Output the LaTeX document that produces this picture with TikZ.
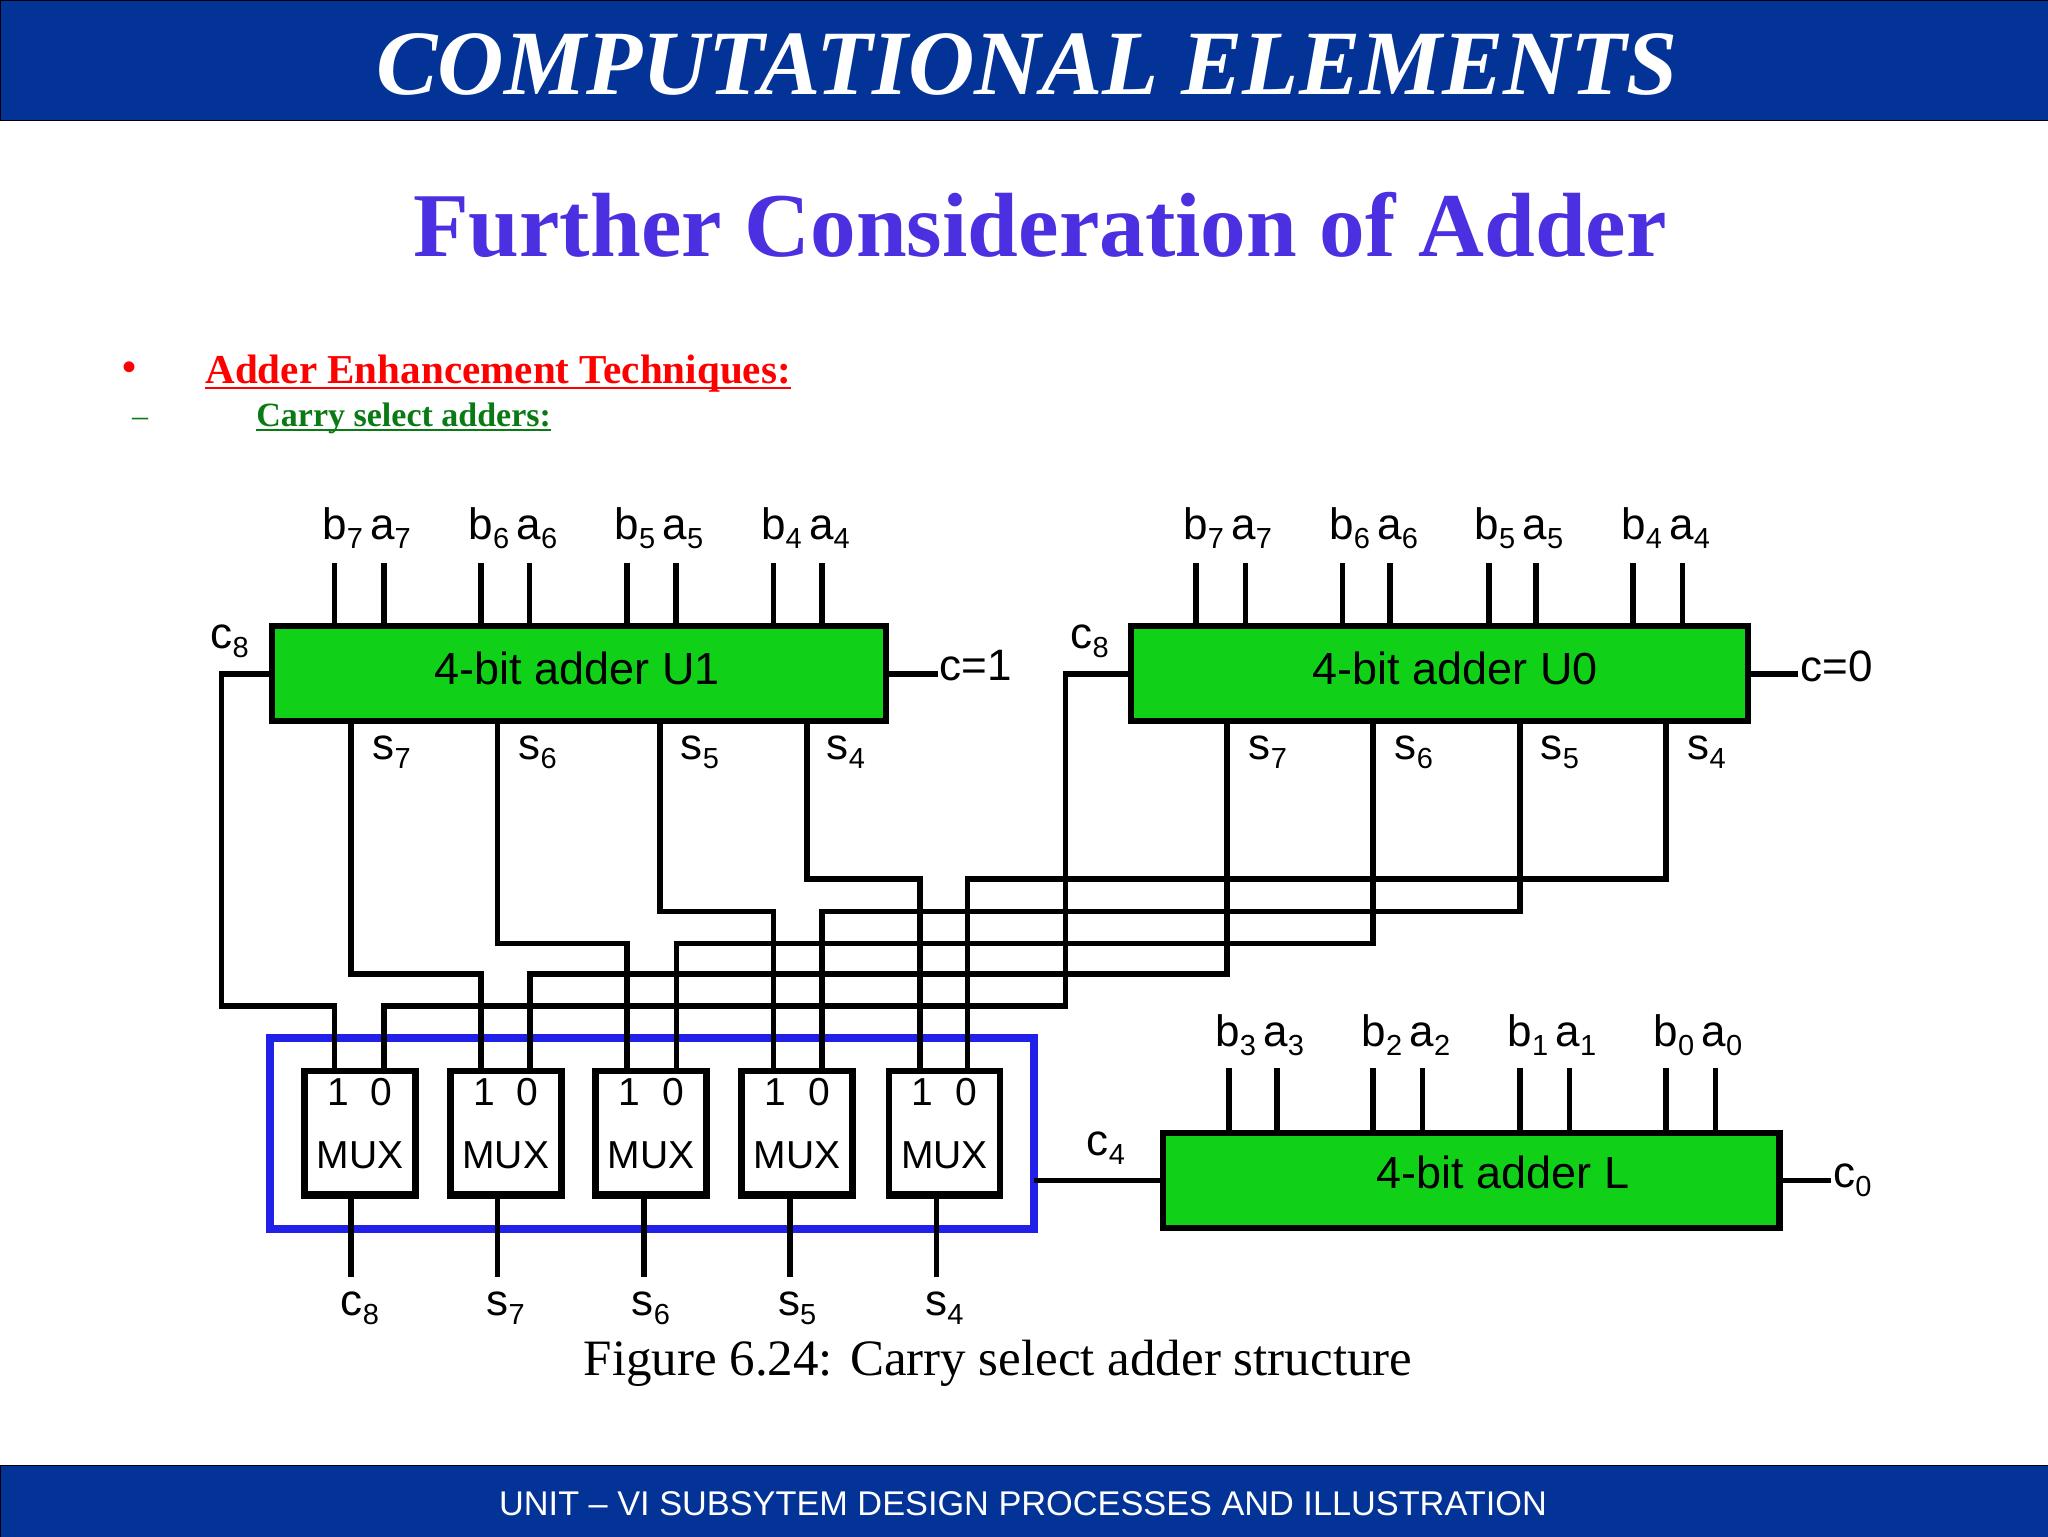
\documentclass[tikz,border=0pt]{standalone}
\usepackage{fontspec}
\setmainfont{Liberation Sans}
\newfontfamily\slidefont{Liberation Serif}
\definecolor{barblue}{HTML}{033396}
\definecolor{headviolet}{HTML}{4A30E0}
\definecolor{addergreen}{HTML}{10D018}
\definecolor{muxblue}{HTML}{2020E8}
\definecolor{subgreen}{HTML}{0A7A14}
\newcommand{\sig}[2]{#1\raisebox{-4.5pt}{\fontsize{14.5}{14.5}\selectfont #2}}
\begin{document}
\begin{tikzpicture}[x=0.5pt, y=-0.5pt,
    adder/.style={draw, line width=3.2pt, fill=addergreen, rectangle, outer sep=0pt, minimum width=307pt, minimum height=47.5pt},
    muxbox/.style={draw, line width=3.4pt, fill=white, rectangle, outer sep=0pt, minimum width=55.5pt, minimum height=62.5pt},
    wire/.style={line width=2.8pt, line join=miter},
    pinlabel/.style={anchor=base, inner sep=0pt, font=\fontsize{22}{22}\selectfont},
    boxlabel/.style={inner sep=0pt, font=\fontsize{22.5}{24}\selectfont},
    every node/.style={align=center}]
  \useasboundingbox (0,0) rectangle (2048,1536);

  % Header and footer bars
  \node[draw=black, fill=barblue, rectangle, minimum width=1024pt, minimum height=60pt, outer sep=0pt] (headbar) at (1024,60) {};
  \node[draw=black, fill=barblue, rectangle, minimum width=1024pt, minimum height=36pt, outer sep=0pt] (footbar) at (1024,1501) {};
  \node[anchor=base, inner sep=0pt, text=white, font=\slidefont\bfseries\itshape\fontsize{46}{48}\selectfont] (headtext) at (1027,95) {COMPUTATIONAL ELEMENTS};
  \node[anchor=base, inner sep=0pt, text=white, font=\fontsize{17.15}{18}\selectfont] (foottext) at (1023,1515) {UNIT – VI SUBSYTEM DESIGN PROCESSES AND ILLUSTRATION};

  % Slide text
  \node[anchor=base, inner sep=0pt, text=headviolet, font=\slidefont\bfseries\fontsize{45.6}{48}\selectfont] (slidetitle) at (1040,256) {Further Consideration of Adder};
  \node[anchor=base, inner sep=0pt, text=red, font=\slidefont\bfseries\fontsize{20}{20}\selectfont] (bullet1) at (129,380) {•};
  \node[anchor=base west, inner sep=0pt, text=red, font=\slidefont\bfseries\fontsize{20.55}{21}\selectfont] (item1) at (205,383) {Adder Enhancement Techniques:};
  \draw[red, line width=1.3pt] ([yshift=-2.5pt]item1.base west) -- ([yshift=-2.5pt]item1.base east);
  \node[anchor=base, inner sep=0pt, text=subgreen, font=\slidefont\fontsize{16}{16}\selectfont] (dash1) at (140,426) {–};
  \node[anchor=base west, inner sep=0pt, text=subgreen, font=\slidefont\bfseries\fontsize{17}{17}\selectfont] (item2) at (256,426) {Carry select adders:};
  \draw[subgreen, line width=1pt] ([yshift=-2pt]item2.base west) -- ([yshift=-2pt]item2.base east);
  \node[anchor=base, inner sep=0pt, font=\slidefont\fontsize{25.5}{26}\selectfont] (caption) at (998,1375) {Figure 6.24: Carry select adder structure};

  % Mux group frame
  \node[draw=muxblue, line width=4pt, rectangle, outer sep=0pt, minimum width=382pt, minimum height=95.5pt] (muxframe) at (652,1133.5) {};

  % Adders
  \node[adder] (u1) at (579,673.75) {};
  \node[adder, minimum width=308.5pt] (u0) at (1439.5,673.75) {};
  \node[adder, minimum width=308.25pt] (lo) at (1471.25,1180.5) {};
  \node[boxlabel] (u1text) at (577.5,668) {4-bit adder U1};
  \node[boxlabel] (u0text) at (1455,668) {4-bit adder U0};
  \node[boxlabel] (lotext) at (1503,1172.5) {4-bit adder L};

  % Adder inputs
  \foreach \n/\x in {a/334.4,b/383.8,c/480.8,d/529.6,e/627.2,f/676,g/773.6,h/821.8} {
    \coordinate (u1top\n) at (\x,563);
    \draw[wire] (u1top\n) -- (u1.north -| u1top\n);
  }
  \foreach \n/\x in {a/1196,b/1245.4,c/1342.5,d/1389.7,e/1489,f/1536,g/1633,h/1682.6} {
    \coordinate (u0top\n) at (\x,563);
    \draw[wire] (u0top\n) -- (u0.north -| u0top\n);
  }
  \foreach \n/\x in {a/1229,b/1276.7,c/1373,d/1422.6,e/1519.7,f/1569.6,g/1666,h/1715.5} {
    \coordinate (lotop\n) at (\x,1068);
    \draw[wire] (lotop\n) -- (lo.north -| lotop\n);
  }
  \foreach \d/\x/\xx in {7/366.6/1227.6,6/513/1373.6,5/659/1519,4/805.5/1665.6} {
    \node[pinlabel] (u1pair\d) at (\x,539) {\sig{b}{\d}\,\sig{a}{\d}};
    \node[pinlabel] (u0pair\d) at (\xx,539) {\sig{b}{\d}\,\sig{a}{\d}};
  }
  \foreach \d/\x in {3/1259.6,2/1406,1/1552,0/1698}
    \node[pinlabel] (lopair\d) at (\x,1046) {\sig{b}{\d}\,\sig{a}{\d}};

  % Muxes
  \foreach \m/\x/\ox/\l/\d in {c8/360/351/c/8,s7/505.8/497.5/s/7,s6/651/644/s/6,s5/797.3/790/s/5,s4/944.5/936.6/s/4} {
    \coordinate (out\m) at (\ox,1277);
    \node[muxbox] (mux\m) at (\x,1133.5) {};
    \node[inner sep=0pt, font=\fontsize{19.5}{20}\selectfont] (sel\m) at ([yshift=-10.5pt]mux\m.north) {1\hspace{11pt}0};
    \node[anchor=base, inner sep=0pt, font=\fontsize{19.5}{20}\selectfont] (text\m) at (\x,1168) {MUX};
    \draw[wire] (mux\m.south -| out\m) -- (out\m);
    \draw[line width=3pt] ([yshift=1pt]mux\m.south west) -- ([yshift=1pt]mux\m.south east);
    \node[pinlabel] (lab\m) at (\x,1315) {\sig{\l}{\d}};
  }

  % Sum wires from both upper adders to the muxes
  \foreach \d/\ux/\vx/\one/\zero/\y/\lx/\rx in {7/351/1226.8/481/530/974/391.6/1268,6/497.5/1373.2/627/676.5/943.6/537.6/1414,5/660/1519.7/773.6/822/911.4/700/1560,4/807/1666/920/967.6/879/846/1706.6} {
    \coordinate (rail1s\d) at (\one,\y);
    \coordinate (rail0s\d) at (\zero,\y);
    \draw[wire] (u1.south -| \ux,0) |- (rail1s\d) -- (muxs\d.north -| rail1s\d);
    \draw[wire] (u0.south -| \vx,0) |- (rail0s\d) -- (muxs\d.north -| rail0s\d);
    \node[pinlabel] (u1sum\d) at (\lx,759) {\sig{s}{\d}};
    \node[pinlabel] (u0sum\d) at (\rx,759) {\sig{s}{\d}};
  }

  % Carry wires
  \coordinate (rail1c8) at (221.3,1006);
  \coordinate (rail0c8) at (1065.5,1006);
  \coordinate (pin1c8) at (334.4,1071);
  \coordinate (pin0c8) at (384,1071);
  \draw[wire] (u1.west) -| (rail1c8) -| (pin1c8);
  \draw[wire] (u0.west) -| (rail0c8) -| (pin0c8);
  \draw[wire] (muxframe.east |- lo.west) -- (lo.west);

  % Carry inputs and labels
  \coordinate (c1end) at (938,673.75);
  \coordinate (c0end) at (1798,673.75);
  \coordinate (c0lo) at (1831,1180.5);
  \draw[wire] (u1.east) -- (c1end);
  \draw[wire] (u0.east) -- (c0end);
  \draw[wire] (lo.east) -- (c0lo);
  \node[pinlabel, anchor=base west] (c1text) at (939,680) {c=1};
  \node[pinlabel, anchor=base west] (c0text) at (1800,681) {c=0};
  \node[pinlabel, anchor=base west] (c0lab) at (1833,1187) {\sig{c}{0}};
  \node[pinlabel] (c8u1) at (229.6,648) {\sig{c}{8}};
  \node[pinlabel] (c8u0) at (1089.6,648) {\sig{c}{8}};
  \node[pinlabel] (c4lab) at (1106,1155) {\sig{c}{4}};
\end{tikzpicture}
\end{document}
